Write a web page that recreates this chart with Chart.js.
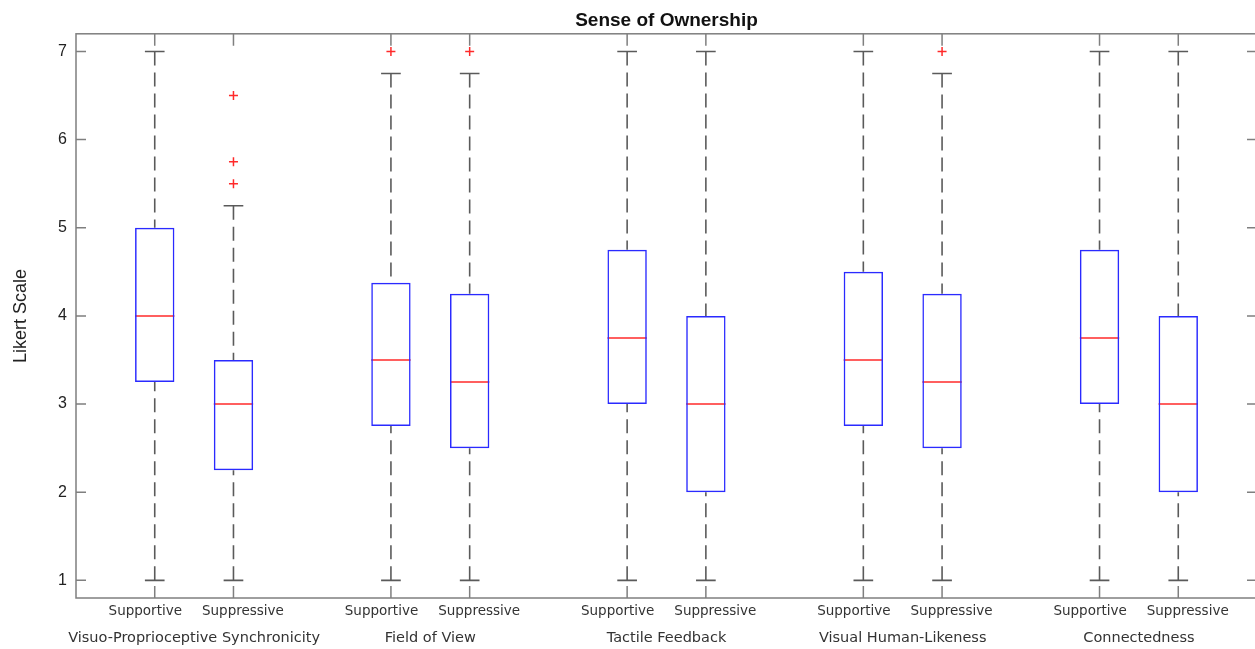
<!DOCTYPE html>
<html>
<head>
<meta charset="utf-8">
<script src="https://cdn.jsdelivr.net/npm/chart.js@4/dist/chart.umd.min.js"></script>
<style>
html, body { margin: 0; padding: 0; background: #fff; overflow: hidden; }
#wrap { position: relative; width: 1257px; height: 649px; }
</style>
</head>
<body>
<div id="wrap"><canvas id="c"></canvas></div>
<script>
// ---- Data ----
const groups = ['Visuo-Proprioceptive Synchronicity', 'Field of View', 'Tactile Feedback', 'Visual Human-Likeness', 'Connectedness'];
const conditions = ['Supportive', 'Suppressive'];
const lowerWhisker = [1, 1, 1, 1, 1, 1, 1, 1, 1, 1];
const q1 = [3.25, 2.25, 2.75, 2.5, 3, 2, 2.75, 2.5, 3, 2];
const medians = [4, 3, 3.5, 3.25, 3.75, 3, 3.5, 3.25, 3.75, 3];
const q3 = [5, 3.5, 4.375, 4.25, 4.75, 4, 4.5, 4.25, 4.75, 4];
const upperWhisker = [7, 5.25, 6.75, 6.75, 7, 7, 7, 6.75, 7, 7];
const outliers = [[], [5.5, 5.75, 6.5], [7], [7], [], [], [], [7], [], []];
const yTickValues = [1, 2, 3, 4, 5, 6, 7];

// ---- Layout helpers (style, not data) ----
const boxWidth = 0.5;
const capWidth = 0.25;
const labelSpread = 0.12;
const slot = i => Math.floor(i / 2) * 3 + (i % 2) + 1;
const boxX = q1.map((_, i) => slot(i));
const groupX = groups.map((_, g) => (slot(2 * g) + slot(2 * g + 1)) / 2);

const boxData = boxX.map((x, i) => ({ x, y: [q1[i], q3[i]] }));
const medianData = boxX.map((x, i) => ({ x, y: medians[i] }));
const capData = boxX.flatMap((x, i) => [{ x, y: upperWhisker[i] }, { x, y: lowerWhisker[i] }]);
const whiskerData = boxX.flatMap((x, i) => [
  { x, y: upperWhisker[i] }, { x, y: q3[i] }, { x, y: null },
  { x, y: lowerWhisker[i] }, { x, y: q1[i] }, { x, y: null }
]);
const outlierData = boxX.flatMap((x, i) => outliers[i].map(v => ({ x, y: v })));

const unitPx = (chart, w) => {
  const s = chart.scales.x;
  return Math.abs(s.getPixelForValue(w) - s.getPixelForValue(0));
};

const framePlugin = {
  id: 'frame',
  afterDatasetsDraw(chart) {
    const { ctx, chartArea: a, scales: { x, y } } = chart;
    ctx.save();
    ctx.strokeStyle = '#7f7f7f';
    ctx.lineWidth = 1.5;
    ctx.strokeRect(a.left, a.top, a.right - a.left, a.bottom - a.top);
    ctx.beginPath();
    boxX.forEach(v => {
      const px = x.getPixelForValue(v);
      ctx.moveTo(px, a.top); ctx.lineTo(px, a.top + 12);
      ctx.moveTo(px, a.bottom); ctx.lineTo(px, a.bottom - 12);
    });
    yTickValues.forEach(v => {
      const py = y.getPixelForValue(v);
      ctx.moveTo(a.left, py); ctx.lineTo(a.left + 10, py);
      ctx.moveTo(a.right, py); ctx.lineTo(a.right - 10, py);
    });
    ctx.stroke();
    ctx.restore();
  }
};

const noSidePadding = s => { s.paddingLeft = 0; s.paddingRight = 0; };

new Chart(document.getElementById('c'), {
  type: 'bar',
  data: {
    datasets: [
      {
        type: 'line', label: 'Whiskers', data: whiskerData,
        borderColor: '#5a5a5a', borderWidth: 1.6, borderDash: [14, 7],
        pointRadius: 0, spanGaps: false, fill: false
      },
      {
        type: 'scatter', label: 'Caps', data: capData,
        pointStyle: 'line', pointRadius: ctx => unitPx(ctx.chart, capWidth) / 2,
        pointBorderColor: '#5a5a5a', pointBorderWidth: 1.6
      },
      {
        type: 'bar', label: 'Boxes', data: boxData,
        backgroundColor: 'rgba(0,0,0,0)', borderColor: '#2a2aff', borderWidth: 1.5,
        borderSkipped: false, barPercentage: boxWidth, categoryPercentage: 1
      },
      {
        type: 'scatter', label: 'Median', data: medianData,
        pointStyle: 'line', pointRadius: ctx => unitPx(ctx.chart, boxWidth) / 2,
        pointBorderColor: '#ff2a2a', pointBorderWidth: 1.5
      },
      {
        type: 'scatter', label: 'Outliers', data: outlierData,
        pointStyle: 'cross', pointRadius: 4.5,
        pointBorderColor: '#ff2a2a', pointBorderWidth: 1.5
      }
    ]
  },
  options: {
    responsive: true,
    maintainAspectRatio: false,
    animation: false,
    events: [],
    layout: { autoPadding: false, padding: 0 },
    plugins: {
      legend: { display: false },
      tooltip: { enabled: false },
      title: {
        display: true, text: 'Sense of Ownership', fullSize: false,
        font: { family: 'Liberation Sans', size: 19, weight: 'bold' },
        color: '#111', padding: { top: 9, bottom: 2 }
      }
    },
    scales: {
      x: {
        type: 'linear', min: 0, max: 15, offset: false,
        grid: { display: false, drawTicks: false }, border: { display: false },
        afterBuildTicks: s => { s.ticks = boxX.map((v, i) => ({ value: v + (i % 2 ? labelSpread : -labelSpread) })); },
        afterFit: s => { s.height = 28; noSidePadding(s); },
        ticks: {
          autoSkip: false, maxRotation: 0, minRotation: 0, padding: 5,
          font: { family: 'DejaVu Sans', size: 13.5 }, color: '#333',
          callback: (v, i) => conditions[i % 2]
        }
      },
      x2: {
        type: 'linear', position: 'bottom', min: 0, max: 15, offset: false,
        grid: { display: false, drawTicks: false }, border: { display: false },
        afterBuildTicks: s => { s.ticks = groupX.map(v => ({ value: v })); },
        afterFit: s => { s.height = 23; noSidePadding(s); },
        ticks: {
          autoSkip: false, maxRotation: 0, minRotation: 0, padding: 4,
          font: { family: 'DejaVu Sans', size: 14.5 }, color: '#333',
          callback: (v, i) => groups[i]
        }
      },
      y: {
        type: 'linear', min: 0.8, max: 7.2,
        grid: { display: false, drawTicks: false }, border: { display: false },
        afterBuildTicks: s => { s.ticks = yTickValues.map(v => ({ value: v })); },
        afterFit: s => { s.width = 76; s.paddingTop = 0; s.paddingBottom = 0; },
        ticks: { padding: 9, font: { family: 'Liberation Sans', size: 16 }, color: '#222' },
        title: {
          display: true, text: 'Likert Scale',
          font: { family: 'Liberation Sans', size: 18 }, color: '#222',
          padding: { top: 10, bottom: 0 }
        }
      }
    }
  },
  plugins: [framePlugin]
});
</script>
</body>
</html>
